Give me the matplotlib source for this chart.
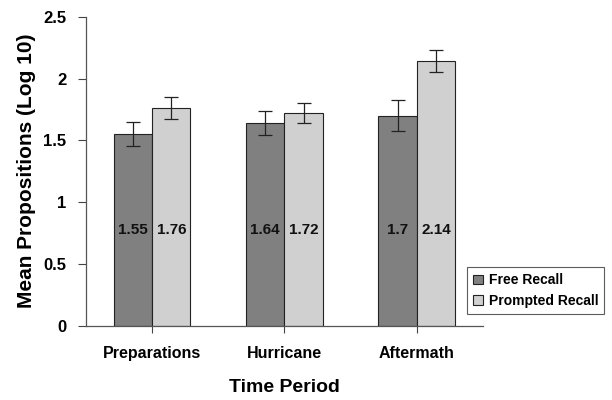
import numpy as np
import matplotlib
matplotlib.use("Agg")
import matplotlib.pyplot as plt

plt.rcParams['font.family'] = ['Liberation Sans', 'DejaVu Sans']

# Dados
periodos = ["Preparations", "Hurricane", "Aftermath"]
series = ["Free Recall", "Prompted Recall"]
free = [1.55, 1.64, 1.7]
prompted = [1.76, 1.72, 2.14]
free_err = [0.10, 0.10, 0.125]
prompted_err = [0.09, 0.08, 0.09]
rotulos_free = ["1.55", "1.64", "1.7"]
rotulos_prompted = ["1.76", "1.72", "2.14"]
yticks = [0, 0.5, 1, 1.5, 2, 2.5]
ytick_labels = ["0", "0.5", "1", "1.5", "2", "2.5"]

cores = ["#808080", "#d0d0d0"]
largura = 0.29

fig = plt.figure(figsize=(6.12, 4), dpi=100)
ax = fig.add_axes([0.1405, 0.186, 0.6485, 0.772])

x = np.arange(len(periodos))
b1 = ax.bar(x - largura / 2, free, largura, color=cores[0], edgecolor="#222222",
            linewidth=0.8, label=series[0], yerr=free_err,
            error_kw=dict(ecolor="#222222", elinewidth=0.9, capsize=5, capthick=0.9))
b2 = ax.bar(x + largura / 2, prompted, largura, color=cores[1], edgecolor="#222222",
            linewidth=0.8, label=series[1], yerr=prompted_err,
            error_kw=dict(ecolor="#222222", elinewidth=0.9, capsize=5, capthick=0.9))

for xi, t in zip(x - largura / 2, rotulos_free):
    ax.text(xi, 0.775, t, ha="center", va="center", fontsize=11, fontweight="bold", color="#111111")
for xi, t in zip(x + largura / 2, rotulos_prompted):
    ax.text(xi, 0.775, t, ha="center", va="center", fontsize=11, fontweight="bold", color="#111111")

ax.set_xlim(-0.5, 2.5)
ax.set_ylim(0, 2.5)
ax.set_yticks(yticks)
ax.set_yticklabels(ytick_labels, fontsize=12, fontweight="bold")
ax.set_xticks(x)
ax.set_xticklabels(periodos, fontsize=11.5, fontweight="bold")
ax.tick_params(axis="x", direction="out", length=5, pad=10, color="#444444")
ax.tick_params(axis="y", direction="out", length=6, pad=8, color="#444444")

for s in ["top", "right"]:
    ax.spines[s].set_visible(False)
for s in ["left", "bottom"]:
    ax.spines[s].set_color("#555555")
    ax.spines[s].set_linewidth(0.9)

ax.set_ylabel("Mean Propositions (Log 10)", fontsize=15, fontweight="bold", labelpad=5)
ax.set_xlabel("Time Period", fontsize=14, fontweight="bold", labelpad=13)

leg = fig.legend(handles=[b1, b2], labels=series, loc="upper left",
                 bbox_to_anchor=(467 / 612, 1 - 267 / 400),
                 prop={"weight": "bold", "size": 10}, frameon=True, fancybox=False,
                 edgecolor="#333333", handlelength=0.7, handleheight=0.7,
                 handletextpad=0.4, borderpad=0.45, labelspacing=0.45,
                 borderaxespad=0)
leg.get_frame().set_linewidth(0.8)

fig.savefig("out.png", dpi=100)
